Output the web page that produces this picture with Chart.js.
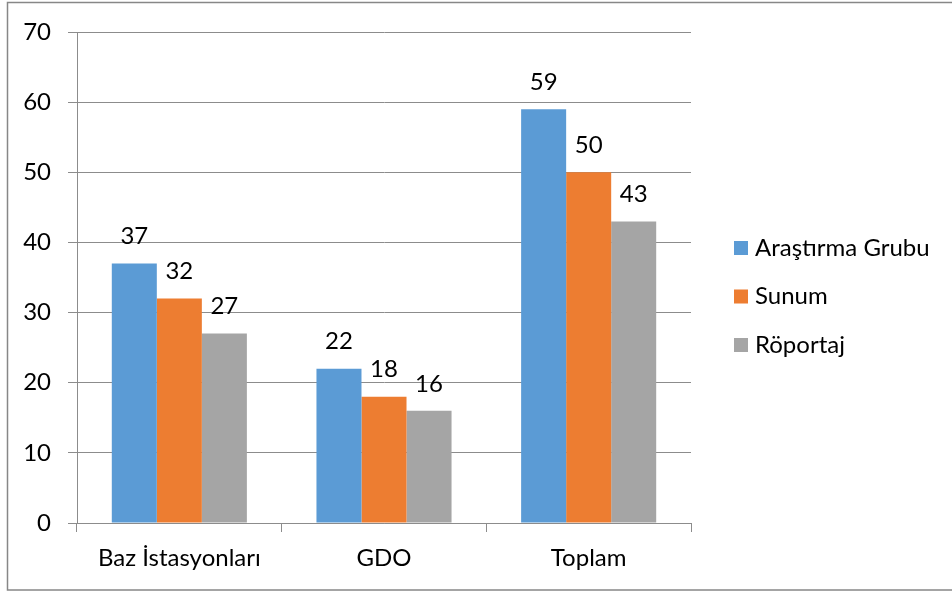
<!DOCTYPE html>
<html>
<head>
<meta charset="utf-8">
<script src="https://cdn.jsdelivr.net/npm/chart.js@4.4.1/dist/chart.umd.min.js"></script>
<style>
  html, body { margin: 0; padding: 0; background: #ffffff; }
  #wrap { width: 952px; height: 592px; position: relative; }
  canvas { display: block; }
</style>
</head>
<body>
<div id="wrap"><canvas id="c" width="952" height="592"></canvas></div>
<script>
// Categories and series
const categories = ['Baz İstasyonları', 'GDO', 'Toplam'];
const arastirmaGrubu = [37, 22, 59];
const sunum = [32, 18, 50];
const roportaj = [27, 16, 43];
const yTicks = [0, 10, 20, 30, 40, 50, 60, 70];

const FONT = 'Lato, "Open Sans", sans-serif';
const FONT_SIZE = 24;
const GRID = '#8c8c8c';

// Outer frame of the chart
const framePlugin = {
  id: 'frame',
  beforeDraw(chart) {
    const ctx = chart.ctx;
    ctx.save();
    ctx.fillStyle = '#ffffff';
    ctx.fillRect(0, 0, chart.width, chart.height);
    ctx.strokeStyle = '#878787';
    ctx.lineWidth = 1.5;
    ctx.strokeRect(7.5, 2.5, chart.width + 10, 587.5);
    ctx.restore();
  }
};

// Value labels above each bar
const valueLabels = {
  id: 'valueLabels',
  afterDatasetsDraw(chart) {
    const ctx = chart.ctx;
    ctx.save();
    ctx.font = FONT_SIZE + 'px ' + FONT;
    ctx.fillStyle = '#000000';
    ctx.textAlign = 'center';
    ctx.textBaseline = 'middle';
    chart.data.datasets.forEach((ds, i) => {
      chart.getDatasetMeta(i).data.forEach((bar, j) => {
        ctx.fillText(String(ds.data[j]), bar.x, bar.y - 27);
      });
    });
    ctx.restore();
  }
};

// Legend at the right, one entry per series
const sideLegend = {
  id: 'sideLegend',
  afterDraw(chart) {
    const ctx = chart.ctx;
    ctx.save();
    ctx.font = FONT_SIZE + 'px ' + FONT;
    ctx.textBaseline = 'middle';
    ctx.textAlign = 'left';
    const x = 734, startY = 248, step = 48.5, box = 14;
    chart.data.datasets.forEach((ds, i) => {
      const cy = startY + i * step;
      ctx.fillStyle = ds.backgroundColor;
      ctx.fillRect(x, cy - box / 2, box, box);
      ctx.fillStyle = '#000000';
      ctx.fillText(ds.label, x + 21, cy);
    });
    ctx.restore();
  }
};

new Chart(document.getElementById('c'), {
  type: 'bar',
  data: {
    labels: categories,
    datasets: [
      { label: 'Araştırma Grubu', data: arastirmaGrubu, backgroundColor: '#5B9BD5' },
      { label: 'Sunum', data: sunum, backgroundColor: '#ED7D31' },
      { label: 'Röportaj', data: roportaj, backgroundColor: '#A5A5A5' }
    ]
  },
  options: {
    responsive: false,
    animation: false,
    devicePixelRatio: 1,
    layout: { padding: { left: 0, top: 32, right: 261, bottom: 0 } },
    datasets: { bar: { categoryPercentage: 0.66, barPercentage: 1.0, borderWidth: 0 } },
    plugins: {
      legend: { display: false },
      tooltip: { enabled: false }
    },
    scales: {
      x: {
        offset: true,
        grid: { display: true, drawOnChartArea: false, drawTicks: true, tickLength: 9, color: GRID, offset: true },
        border: { display: true, color: GRID, width: 1 },
        ticks: { color: '#000000', font: { family: FONT, size: FONT_SIZE }, padding: 12, maxRotation: 0 },
        afterFit(scale) { scale.height = 69; }
      },
      y: {
        min: 0,
        max: 70,
        afterBuildTicks(scale) { scale.ticks = yTicks.map(v => ({ value: v })); },
        grid: { color: GRID, lineWidth: 1, drawTicks: true, tickLength: 9 },
        border: { display: true, color: GRID, width: 1 },
        ticks: { color: '#000000', font: { family: FONT, size: FONT_SIZE }, padding: 17 },
        afterFit(scale) { scale.width = 77; }
      }
    }
  },
  plugins: [framePlugin, valueLabels, sideLegend]
});
</script>
</body>
</html>
